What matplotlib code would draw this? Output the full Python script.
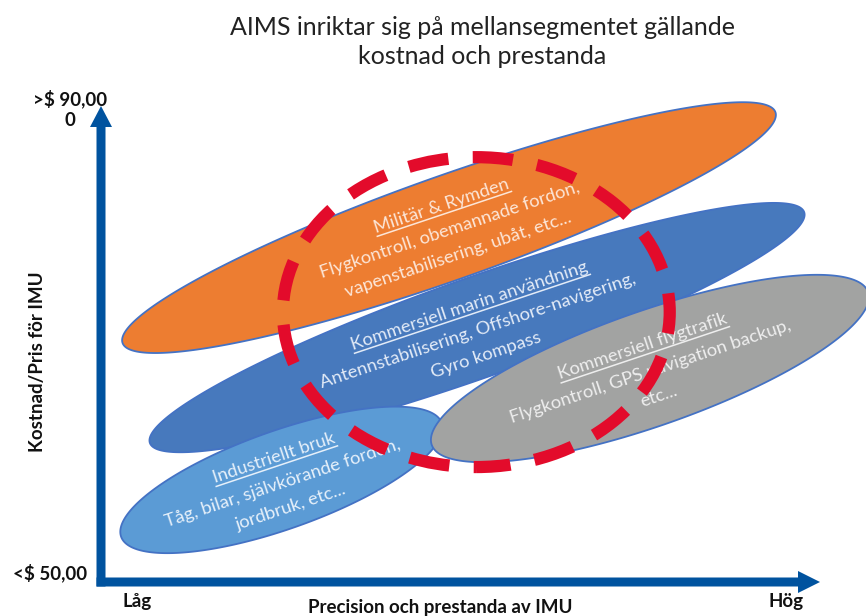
import numpy as np
import matplotlib
matplotlib.use("Agg")
import matplotlib.pyplot as plt
from matplotlib.patches import Polygon, Ellipse
from matplotlib.lines import Line2D

# ---------------- data ----------------
title = "AIMS inriktar sig på mellansegmentet gällande\nkostnad och prestanda"
x_label = "Precision och prestanda av IMU"
y_label = "Kostnad/Pris för IMU"
x_tick_labels = ["Låg", "Hög"]
y_tick_labels = ["<$ 50,00", ">$ 90,00\n0"]

segments = ["Militär & Rymden", "Kommersiell marin användning",
            "Industriellt bruk", "Kommersiell flygtrafik"]
descriptions = ["Flygkontroll, obemannade fordon,\nvapenstabilisering, ubåt, etc...",
                "Antennstabilisering, Offshore-navigering,\nGyro kompass",
                "Tåg, bilar, självkörande fordon,\njordbruk, etc...",
                "Flygkontroll, GPS navigation backup,\netc..."]
# ends of each segment's band (precision 0-100, cost index 0-100)
precision_low = [3.0, 6.8, 2.8, 46.0]
cost_low = [50.2, 29.2, 9.5, 28.8]
precision_high = [93.8, 97.8, 47.4, 106.7]
cost_high = [98.7, 77.7, 33.4, 60.9]

# AIMS target (mid segment)
focus_precision = 52.2
focus_cost = 56.7
focus_precision_span = 53.8
focus_cost_span = 65.1

# ---------------- styles ----------------
band_px = [104, 100, 98, 115]
fills = ["#ED7D31", "#4779BD", "#5B9BD5", "#A2A3A2"]
text_cols = ["#FCE6D8", "#E3EBF7", "#E6F0FA", "#EEEEEE"]
edge_col = "#4472C4"
axis_col = "#00539F"
red = "#E30B2B"

W, H = 866, 616
fig = plt.figure(figsize=(W / 100, H / 100), dpi=100)

# decoration layer in pixel coordinates
deco = fig.add_axes([0, 0, 1, 1])
deco.set_xlim(0, W)
deco.set_ylim(H, 0)
deco.axis("off")

# data axes (origin at axis corner)
px0, px1 = 101, 820
py0, py1 = 582, 106
ax = fig.add_axes([px0 / W, 1 - py0 / H, (px1 - px0) / W, (py0 - py1) / H])
ax.set_xlim(0, 100)
ax.set_ylim(0, 100)
ax.axis("off")
sx = (px1 - px0) / 100.0
sy = (py0 - py1) / 100.0

font_in = {"family": ["Lato", "DejaVu Sans"], "weight": "normal"}
rot = 18.5
fs = 13.2
spacing = 26.0  # px between lines
shift = 8.0     # px, block shift below the band centre

renderer = fig.canvas.get_renderer()
t = np.linspace(0, 2 * np.pi, 400)
for i in range(len(segments)):
    pl = np.array([precision_low[i] * sx, cost_low[i] * sy])
    ph = np.array([precision_high[i] * sx, cost_high[i] * sy])
    c = (pl + ph) / 2
    u = ph - pl
    a = np.linalg.norm(u) / 2
    u = u / np.linalg.norm(u)
    v = np.array([-u[1], u[0]])
    b = band_px[i] / 2
    pts = c[None, :] + a * np.cos(t)[:, None] * u + b * np.sin(t)[:, None] * v
    pts = pts / np.array([sx, sy])
    ax.add_patch(Polygon(pts, closed=True, fc=fills[i], ec=edge_col, lw=1.3,
                         zorder=2 + i, clip_on=False))

    # texts
    lines = [segments[i]] + descriptions[i].split("\n")
    n = len(lines)
    r = np.deg2rad(rot)
    D = np.array([np.cos(r), np.sin(r)])
    N = np.array([np.sin(r), -np.cos(r)])
    for k, s in enumerate(lines):
        p = c + ((k - (n - 1) / 2) * spacing + shift) * N
        ax.text(p[0] / sx, p[1] / sy, s, rotation=rot, rotation_mode="anchor",
                ha="center", va="baseline", fontsize=fs, color=text_cols[i],
                fontdict=font_in, zorder=10, clip_on=False)
        if k == 0:
            tmp = ax.text(0, 0, s, fontsize=fs, fontdict=font_in)
            w = tmp.get_window_extent(renderer).width
            tmp.remove()
            q = p + 3.5 * N
            e1 = (q - w / 2 * D) / np.array([sx, sy])
            e2 = (q + w / 2 * D) / np.array([sx, sy])
            ax.add_line(Line2D([e1[0], e2[0]], [e1[1], e2[1]], color=text_cols[i],
                               lw=1.1, zorder=10, clip_on=False))

# AIMS focus ring
lw_red = 8.8
ax.add_patch(Ellipse((focus_precision, focus_cost), focus_precision_span,
                     focus_cost_span, fill=False, ec=red, lw=lw_red,
                     linestyle=(0.5, (3.3, 2.0)), capstyle="butt",
                     zorder=20, clip_on=False))

# axes arrows
shaft = 9
deco.add_patch(Polygon([(px0 - shaft / 2, py0 + shaft / 2), (px0 + shaft / 2, py0 + shaft / 2),
                        (px0 + shaft / 2, py1 + 21), (px0 + 11, py1 + 21), (px0, py1),
                        (px0 - 11, py1 + 21), (px0 - shaft / 2, py1 + 21)],
                       closed=True, fc=axis_col, ec="none", zorder=5))
deco.add_patch(Polygon([(px0 - shaft / 2, py0 + shaft / 2), (px1 - 22, py0 + shaft / 2),
                        (px1 - 22, py0 + 11), (px1, py0), (px1 - 22, py0 - 11),
                        (px1 - 22, py0 - shaft / 2), (px0 - shaft / 2, py0 - shaft / 2)],
                       closed=True, fc=axis_col, ec="none", zorder=5))

bold = {"family": ["Lato", "DejaVu Sans"], "weight": "bold"}
deco.text(482, 42, title, ha="center", va="center", fontsize=18,
          color="#222222", linespacing=1.3,
          fontdict={"family": ["Lato", "DejaVu Sans"], "weight": "normal"})
deco.text(70, 109, y_tick_labels[1], ha="center", va="center", fontsize=13.5,
          color="#111111", fontdict=bold, linespacing=1.3)
deco.text(50, 573, y_tick_labels[0], ha="center", va="center", fontsize=13.5,
          color="#111111", fontdict=bold)
deco.text(137, 601, x_tick_labels[0], ha="center", va="center", fontsize=13.5,
          color="#111111", fontdict=bold)
deco.text(786, 601, x_tick_labels[1], ha="center", va="center", fontsize=13.5,
          color="#111111", fontdict=bold)
deco.text(440, 607, x_label, ha="center", va="center", fontsize=13.5,
          color="#111111", fontdict=bold)
deco.text(38, 362, y_label, ha="center", va="center", rotation=90, fontsize=13.5,
          color="#111111", fontdict=bold)

fig.savefig("out.png", dpi=100)
